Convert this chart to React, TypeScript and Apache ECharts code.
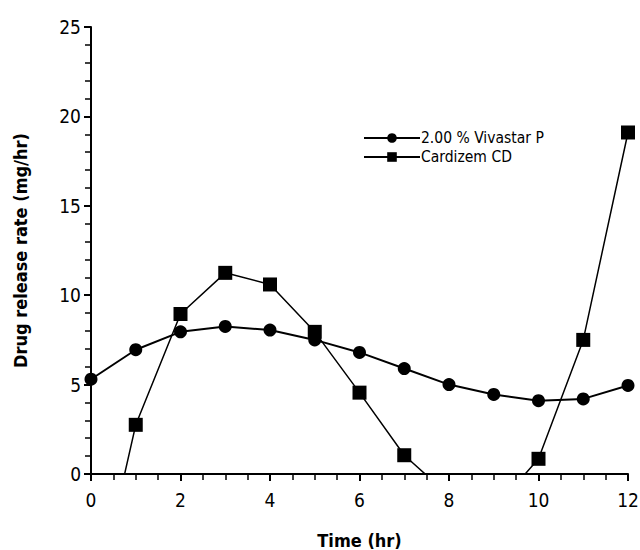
import React, { useEffect, useRef } from "react";
import * as echarts from "echarts";

const times = [0, 1, 2, 3, 4, 5, 6, 7, 8, 9, 10, 11, 12];
const vivastar = [5.3, 6.95, 7.95, 8.25, 8.05, 7.5, 6.8, 5.9, 5.0, 4.45, 4.1, 4.2, 4.95];
const cardizem = [-8.3, 2.75, 8.95, 11.25, 10.6, 7.95, 4.55, 1.05, -1.2, -2.0, 0.85, 7.5, 19.1];
const seriesNames = ["2.00 % Vivastar P", "Cardizem CD"];

const FONT = "'Liberation Sans Narrow', 'DejaVu Sans Condensed', Arial, sans-serif";

export default function App() {
  const ref = useRef<HTMLDivElement>(null);
  useEffect(() => {
    if (!ref.current) return;
    const chart = echarts.init(ref.current, undefined, { renderer: "svg" });
    chart.setOption({
      animation: false,
      backgroundColor: "#ffffff",
      grid: { left: 91, right: 12, top: 27, bottom: 76, outerBoundsMode: "none", containLabel: false },
      legend: {
        orient: "vertical",
        left: 358,
        top: 124,
        itemGap: 1,
        itemWidth: 56,
        itemHeight: 12,
        textStyle: {
          fontFamily: FONT,
          fontSize: 15.5,
          lineHeight: 18,
          color: "#000",
          padding: [0, 0, 0, -4],
        },
        data: seriesNames,
      },
      xAxis: {
        type: "value",
        min: 0,
        max: 12,
        interval: 2,
        name: "Time (hr)",
        nameLocation: "middle",
        nameGap: 57,
        nameTextStyle: { fontFamily: FONT, fontSize: 18, fontWeight: "bold", color: "#000" },
        axisLine: { lineStyle: { color: "#000", width: 2 } },
        axisTick: { show: true, length: 7, lineStyle: { color: "#000", width: 2 } },
        minorTick: { show: true, splitNumber: 4, length: 6, lineStyle: { color: "#000", width: 1.5 } },
        axisLabel: { fontFamily: FONT, fontSize: 19, color: "#000", margin: 16 },
        splitLine: { show: false },
      },
      yAxis: {
        type: "value",
        min: 0,
        max: 25,
        interval: 5,
        name: "Drug release rate (mg/hr)",
        nameLocation: "middle",
        nameGap: 62,
        nameTextStyle: { fontFamily: FONT, fontSize: 18, fontWeight: "bold", color: "#000" },
        axisLine: { show: true, lineStyle: { color: "#000", width: 2 } },
        axisTick: { show: true, length: 7, lineStyle: { color: "#000", width: 2 } },
        minorTick: { show: true, splitNumber: 5, length: 6, lineStyle: { color: "#000", width: 1.5 } },
        axisLabel: { fontFamily: FONT, fontSize: 19, color: "#000", margin: 10 },
        splitLine: { show: false },
      },
      series: [
        {
          name: seriesNames[0],
          type: "line",
          data: times.map((t, i) => [t, vivastar[i]]),
          symbol: "circle",
          symbolSize: 13,
          itemStyle: { color: "#000" },
          lineStyle: { color: "#000", width: 2 },
          clip: true,
        },
        {
          name: seriesNames[1],
          type: "line",
          data: times.map((t, i) => [t, cardizem[i]]),
          symbol: "rect",
          symbolSize: 14,
          itemStyle: { color: "#000" },
          lineStyle: { color: "#000", width: 1.5 },
          clip: true,
        },
      ],
    });
    return () => chart.dispose();
  }, []);
  return <div ref={ref} style={{ width: 640, height: 550, position: "absolute", left: 0, top: 0 }} />;
}
